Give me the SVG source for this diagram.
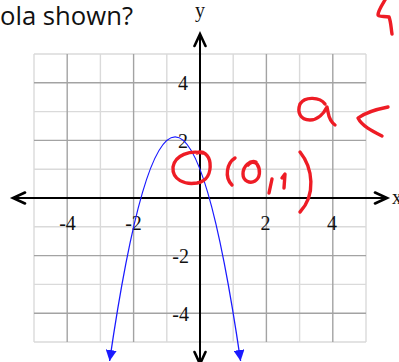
<svg xmlns="http://www.w3.org/2000/svg" width="399" height="362" viewBox="0 0 399 362">
<style>
.minor{stroke:#dadada;stroke-width:1.4;fill:none}
.major{stroke:#a3a3a3;stroke-width:1.4;fill:none}
.axis{stroke:#000;stroke-width:2;fill:none}
.chev{stroke:#000;stroke-width:2.6;fill:none;stroke-linecap:round;stroke-linejoin:miter}
.num{font-family:"Liberation Serif","Times New Roman",serif;font-size:20px;fill:#111}
.ink{stroke:#ee1c25;stroke-width:3.4;fill:none;stroke-linecap:round;stroke-linejoin:round}
</style>
<defs>
<marker id="tri" viewBox="0 0 10 10" refX="10" refY="5" markerUnits="userSpaceOnUse" markerWidth="11" markerHeight="11" orient="auto-start-reverse">
<path d="M0,0 L10,5 L0,10 z" fill="#1a1aff"/>
</marker>
</defs>
<rect width="399" height="362" fill="#fff"/>
<text x="0" y="25" font-family="'Open Sans','Noto Sans',sans-serif" font-size="25" fill="#111" textLength="133" lengthAdjust="spacingAndGlyphs">ola shown?</text>
<g id="grid">
<path class="minor" d="M34 54V342M100.4 54V342M166.8 54V342M233.2 54V342M299.6 54V342M366 54V342M34 54H366M34 111.6H366M34 169.2H366M34 226.8H366M34 284.4H366M34 342H366"/>
<path class="major" d="M67.2 54V342M133.6 54V342M266.4 54V342M332.8 54V342M34 82.8H366M34 140.4H366M34 255.6H366M34 313.2H366"/>
</g>
<g id="axes">
<path class="axis" d="M13 198H387M200 34V362"/>
<path class="chev" d="M25 192.5L13 198L25 203.5M375 192.5L387 198L375 203.5M194.5 46L200 34L205.5 46M194.5 352L200 364L205.5 352"/>
<text class="num" x="200" y="17" text-anchor="middle" font-size="18">y</text>
<text class="num" x="392" y="204" font-size="18">x</text>
</g>
<g id="labels">
<text class="num" x="188" y="90" text-anchor="end">4</text>
<text class="num" x="188" y="148" text-anchor="end">2</text>
<text class="num" x="189" y="263" text-anchor="end">-2</text>
<text class="num" x="189" y="321" text-anchor="end">-4</text>
<text class="num" x="67.5" y="230" text-anchor="middle">-4</text>
<text class="num" x="133.5" y="230" text-anchor="middle">-2</text>
<text class="num" x="265.5" y="230" text-anchor="middle">2</text>
<text class="num" x="332" y="230" text-anchor="middle">4</text>
</g>
<g id="parabola">
<path d="M109.6 361Q175.1 -87.4 240.6 361" fill="none" stroke="#1a1aff" stroke-width="1.3" marker-start="url(#tri)" marker-end="url(#tri)"/>
</g>
<g id="handwriting">
<path class="ink" d="M385 0C382 5 378 11 378 15C378 17 385 16 389 17C391 22 391 28 392 34"/>
<path class="ink" d="M325 104C320 97 305 96 300 104C297 112 300 120 310 120C318 120 324 113 327 107L328 112C329 118 331 122 335 125"/>
<path class="ink" d="M388 107C378 109 366 112 358 118C362 126 372 131 382 136"/>
<path class="ink" d="M203 153C190 150 175 155 173 167C172 180 185 185 197 183C207 181 211 173 210 163C209 155 203 150 197 153"/>
<path class="ink" d="M235 158C227 163 224 177 232 185"/>
<path class="ink" d="M256 162C250 160 243 166 243 174C243 181 250 184 255 181C260 178 261 170 257 164C254 161 250 162 248 165"/>
<path class="ink" d="M272 179L269 193"/>
<path class="ink" d="M282 178L285 174L284 188"/>
<path class="ink" d="M300 152C313 168 316 195 300 212"/>
</g>
</svg>
